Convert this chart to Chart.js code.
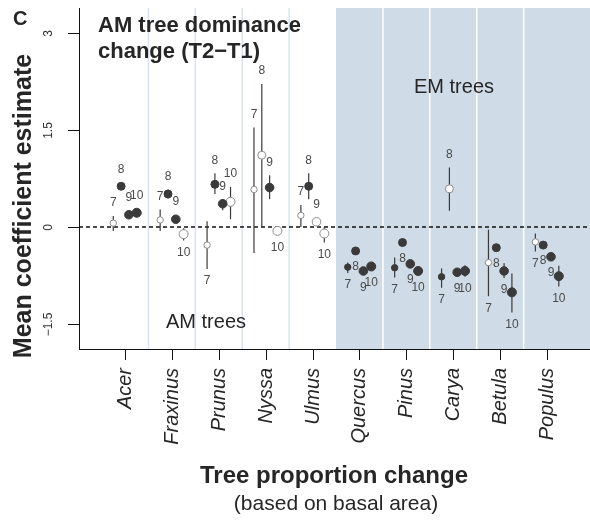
<!DOCTYPE html>
<html>
<head>
<meta charset="utf-8">
<script src="https://cdn.jsdelivr.net/npm/chart.js@4.4.1/dist/chart.umd.min.js"></script>
<style>
  body { margin: 0; background: #fff; }
</style>
</head>
<body>
<canvas id="myChart" width="590" height="520"></canvas>
<script>
// genera on the x axis and census years shown as point labels
const genera = ['Acer', 'Fraxinus', 'Prunus', 'Nyssa', 'Ulmus', 'Quercus', 'Pinus', 'Carya', 'Betula', 'Populus'];
const years = ['7', '8', '9', '10'];

// mean estimates, interval ends and significance (1 = filled dot)
const est7 = [0.06, 0.11, -0.28, 0.58, 0.18, -0.62, -0.63, -0.77, -0.55, -0.23];
const lo7  = [-0.06, -0.06, -0.65, -0.40, 0.0, -0.71, -0.78, -0.94, -1.07, -0.38];
const hi7  = [0.17, 0.27, 0.09, 1.54, 0.34, -0.55, -0.47, -0.64, -0.04, -0.10];
const sig7 = [0, 0, 0, 0, 0, 1, 1, 1, 0, 0];

const est8 = [0.63, 0.51, 0.66, 1.11, 0.63, -0.37, -0.24, 0.59, -0.32, -0.28];
const lo8  = [0.63, 0.44, 0.51, 0.0, 0.43, -0.42, -0.24, 0.25, -0.37, -0.28];
const hi8  = [0.63, 0.58, 0.83, 2.21, 0.83, -0.31, -0.24, 0.92, -0.27, -0.28];
const sig8 = [1, 1, 1, 0, 1, 1, 1, 0, 1, 1];

const est9 = [0.19, 0.12, 0.36, 0.61, 0.08, -0.68, -0.57, -0.70, -0.68, -0.46];
const lo9  = [0.19, 0.12, 0.26, 0.43, 0.08, -0.68, -0.57, -0.70, -0.79, -0.46];
const hi9  = [0.19, 0.12, 0.42, 0.80, 0.08, -0.68, -0.57, -0.70, -0.56, -0.46];
const sig9 = [1, 1, 1, 1, 0, 1, 1, 1, 1, 1];

const est10 = [0.22, -0.11, 0.39, -0.06, -0.10, -0.61, -0.68, -0.68, -1.01, -0.76];
const lo10  = [0.22, -0.21, 0.12, -0.06, -0.24, -0.61, -0.68, -0.77, -1.32, -0.92];
const hi10  = [0.22, -0.02, 0.62, -0.06, 0.0, -0.61, -0.68, -0.59, -0.72, -0.60];
const sig10 = [1, 0, 0, 0, 0, 1, 1, 1, 1, 1];

const yTicks = [-1.5, 0, 1.5, 3];
const yTickLabels = ['\u22121.5', '0', '1.5', '3'];

const estimates = [est7, est8, est9, est10];
const lows = [lo7, lo8, lo9, lo10];
const highs = [hi7, hi8, hi9, hi10];
const sigs = [sig7, sig8, sig9, sig10];

const offsets = [-0.25, -0.083, 0.083, 0.25]; // dodge within a genus
const radii = [3.2, 4, 4.3, 4.5];
const FONT = '"Liberation Sans", Arial, sans-serif';
const DARK = '#262626';

function line(ctx, x1, y1, x2, y2) {
  ctx.beginPath();
  ctx.moveTo(x1, y1);
  ctx.lineTo(x2, y2);
  ctx.stroke();
}

const backdrop = {
  id: 'backdrop',
  beforeDatasetsDraw(chart) {
    const { ctx, chartArea: a, scales: { x, y } } = chart;
    ctx.save();
    // EM half shaded
    const xs = x.getPixelForValue(4.5);
    ctx.fillStyle = '#cfdbe6';
    ctx.fillRect(xs, a.top, a.right - xs, a.bottom - a.top);
    // genus separators
    ctx.lineWidth = 1.5;
    for (let i = 0; i < genera.length - 1; i++) {
      if (i === 4) continue;
      const px = x.getPixelForValue(i + 0.5);
      ctx.strokeStyle = i < 4 ? '#d9e4ee' : '#ffffff';
      line(ctx, px, a.top, px, a.bottom);
    }
    // zero reference
    ctx.strokeStyle = '#111';
    ctx.lineWidth = 1.3;
    ctx.setLineDash([4, 3]);
    const y0 = y.getPixelForValue(0);
    line(ctx, a.left, y0, a.right, y0);
    ctx.setLineDash([]);
    // intervals
    ctx.strokeStyle = '#3a3a3a';
    ctx.lineWidth = 1.2;
    estimates.forEach((est, k) => {
      est.forEach((v, i) => {
        if (lows[k][i] === highs[k][i]) return;
        const px = x.getPixelForValue(i + offsets[k]);
        line(ctx, px, y.getPixelForValue(lows[k][i]), px, y.getPixelForValue(highs[k][i]));
      });
    });
    ctx.restore();
  },
  afterDatasetsDraw(chart) {
    const { ctx, scales: { x, y } } = chart;
    ctx.save();
    ctx.font = '12px ' + FONT;
    ctx.fillStyle = '#4a4a4a';
    ctx.textAlign = 'center';
    ctx.textBaseline = 'middle';
    estimates.forEach((est, k) => {
      est.forEach((v, i) => {
        const px = x.getPixelForValue(i + offsets[k]);
        const py = y.getPixelForValue(v);
        let ty;
        if (v > 0) ty = Math.min(y.getPixelForValue(highs[k][i]), py - radii[k]) - 13;
        else ty = Math.max(y.getPixelForValue(lows[k][i]), py + radii[k]) + 12;
        ctx.fillText(years[k], px, ty);
      });
    });
    ctx.restore();
  },
  afterDraw(chart) {
    const { ctx, chartArea: a, scales: { x, y } } = chart;
    ctx.save();
    ctx.strokeStyle = '#111';
    ctx.lineWidth = 1;
    // axes lines
    line(ctx, a.left + 0.5, a.top, a.left + 0.5, a.bottom + 0.5);
    line(ctx, a.left, a.bottom + 0.5, a.right, a.bottom + 0.5);

    // y ticks, rotated labels
    ctx.fillStyle = '#333';
    ctx.font = '12px ' + FONT;
    ctx.textAlign = 'center';
    ctx.textBaseline = 'middle';
    yTicks.forEach((t, j) => {
      const py = Math.round(y.getPixelForValue(t)) + 0.5;
      line(ctx, a.left - 11, py, a.left, py);
      ctx.save();
      ctx.translate(49, py);
      ctx.rotate(-Math.PI / 2);
      ctx.fillText(yTickLabels[j], 0, 0);
      ctx.restore();
    });

    // x ticks, italic rotated genus names
    ctx.font = 'italic 20px ' + FONT;
    ctx.textAlign = 'right';
    genera.forEach((g, i) => {
      const px = Math.round(x.getPixelForValue(i)) + 0.5;
      line(ctx, px, a.bottom, px, a.bottom + 11);
      ctx.save();
      ctx.translate(px, a.bottom + 19);
      ctx.rotate(-Math.PI / 2);
      ctx.fillStyle = DARK;
      ctx.fillText(g, 0, 0);
      ctx.restore();
    });

    // axis titles
    ctx.fillStyle = DARK;
    ctx.textAlign = 'center';
    ctx.textBaseline = 'alphabetic';
    ctx.save();
    ctx.translate(31, 206);
    ctx.rotate(-Math.PI / 2);
    ctx.font = 'bold 25px ' + FONT;
    ctx.fillText('Mean coefficient estimate', 0, 0);
    ctx.restore();

    ctx.font = 'bold 24px ' + FONT;
    ctx.fillText('Tree proportion change', 334, 483);
    ctx.font = '21px ' + FONT;
    ctx.fillText('(based on basal area)', 336, 510);

    // panel texts
    ctx.font = '20px ' + FONT;
    ctx.fillText('EM trees', 454, 93);
    ctx.fillText('AM trees', 206, 328);

    ctx.textAlign = 'left';
    ctx.font = 'bold 22px ' + FONT;
    ctx.fillText('AM tree dominance', 98, 31.5);
    ctx.fillText('change (T2\u2212T1)', 98, 58);
    ctx.font = 'bold 20px ' + FONT;
    ctx.fillText('C', 13, 25);
    ctx.restore();
  }
};

const ctx = document.getElementById('myChart');

new Chart(ctx, {
  type: 'scatter',
  data: {
    datasets: years.map((yr, k) => ({
      label: yr,
      data: genera.map((g, i) => ({ x: i + offsets[k], y: estimates[k][i] })),
      pointRadius: radii[k],
      pointHoverRadius: radii[k],
      pointBorderWidth: 1,
      pointBackgroundColor: sigs[k].map(s => s ? '#3a3a3a' : '#ffffff'),
      pointBorderColor: sigs[k].map(s => s ? '#3a3a3a' : '#8c8c8c')
    }))
  },
  options: {
    responsive: false,
    animation: false,
    events: [],
    layout: { autoPadding: false, padding: { left: 79, top: 8, right: 0, bottom: 171 } },
    plugins: {
      legend: { display: false },
      tooltip: { enabled: false }
    },
    scales: {
      x: { type: 'linear', min: -0.981, max: 9.915, display: false },
      y: { min: -1.886, max: 3.386, display: false }
    }
  },
  plugins: [backdrop]
});
</script>
</body>
</html>
